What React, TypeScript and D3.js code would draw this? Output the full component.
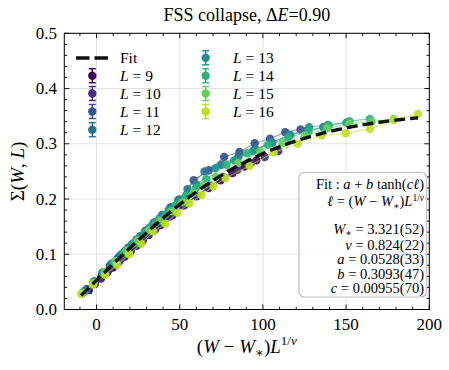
import React from 'react';
import * as d3 from 'd3';

// Fit parameters (from the annotation box)
const W_STAR = 3.321;
const NU = 0.824;
const FIT_A = 0.0528;
const FIT_B = 0.3093;
const FIT_C = 0.00955;

const L_VALUES = [9, 10, 11, 12, 13, 14, 15, 16];
const W_VALUES = [3.0, 3.25, 3.5, 3.75, 4.0, 4.25, 4.5, 4.75, 5.0, 5.25, 5.5, 5.75, 6.0, 6.5, 7.0, 7.5, 8.0, 8.5, 9.0, 9.5, 10.0];

const SIGMA_L9 = [0.035, 0.046, 0.056, 0.066, 0.076, 0.086, 0.096, 0.106, 0.116, 0.125, 0.135, 0.144, 0.153, 0.171, 0.189, 0.205, 0.220, 0.234, 0.247, 0.259, 0.270];
const SIGMA_L10 = [0.036, 0.047, 0.058, 0.070, 0.082, 0.093, 0.104, 0.115, 0.126, 0.137, 0.147, 0.158, 0.168, 0.188, 0.206, 0.224, 0.239, 0.253, 0.265, 0.276, 0.287];
const SIGMA_L11 = [0.037, 0.051, 0.065, 0.079, 0.092, 0.106, 0.119, 0.132, 0.145, 0.158, 0.171, 0.184, 0.198, 0.234, 0.252, 0.276, 0.285, 0.301, 0.309, 0.321, 0.326];
const SIGMA_L12 = [0.035, 0.051, 0.067, 0.082, 0.097, 0.112, 0.127, 0.142, 0.157, 0.171, 0.185, 0.199, 0.218, 0.250, 0.262, 0.277, 0.290, 0.302, 0.315, 0.323, 0.330];
const SIGMA_L13 = [0.033, 0.050, 0.067, 0.084, 0.101, 0.117, 0.133, 0.149, 0.165, 0.180, 0.195, 0.210, 0.226, 0.256, 0.270, 0.287, 0.303, 0.316, 0.330, 0.334, 0.338];
const SIGMA_L14 = [0.031, 0.049, 0.067, 0.085, 0.103, 0.121, 0.139, 0.156, 0.172, 0.189, 0.205, 0.220, 0.236, 0.262, 0.283, 0.298, 0.311, 0.322, 0.333, 0.341, 0.345];
const SIGMA_L15 = [0.029, 0.048, 0.068, 0.088, 0.107, 0.126, 0.144, 0.161, 0.178, 0.194, 0.211, 0.226, 0.240, 0.265, 0.286, 0.301, 0.315, 0.328, 0.336, 0.340, 0.345];
const SIGMA_L16 = [0.028, 0.045, 0.063, 0.081, 0.100, 0.119, 0.141, 0.155, 0.175, 0.192, 0.207, 0.223, 0.238, 0.260, 0.284, 0.300, 0.315, 0.319, 0.327, 0.343, 0.354];

const SIGMA_BY_L = [SIGMA_L9, SIGMA_L10, SIGMA_L11, SIGMA_L12, SIGMA_L13, SIGMA_L14, SIGMA_L15, SIGMA_L16];

const X_MAJOR = [0, 50, 100, 150, 200];
const Y_MAJOR = [0, 0.1, 0.2, 0.3, 0.4, 0.5];
const Y_LABELS = ['0.0', '0.1', '0.2', '0.3', '0.4', '0.5'];

const FONT = '"Liberation Serif", "DejaVu Serif", serif';

const W = 449, H = 370;
const LEFT = 64.3, RIGHT = 429.3, TOP = 33.3, BOTTOM = 309.5;

export default function App() {
  const x = d3.scaleLinear().domain([-19.4, 200]).range([LEFT, RIGHT]);
  const y = d3.scaleLinear().domain([0, 0.5]).range([BOTTOM, TOP]);
  const color = (i: number) => d3.interpolateViridis((i / (L_VALUES.length - 1)) * 0.9);

  const series = L_VALUES.map((L, i) => {
    const k = Math.pow(L, 1 / NU);
    return {
      L,
      color: color(i),
      pts: W_VALUES.map((w, j) => ({ x: (w - W_STAR) * k, y: SIGMA_BY_L[i][j] })),
    };
  });

  const allX = series.flatMap(s => s.pts.map(p => p.x));
  const xmin = d3.min(allX) as number;
  const xmax = d3.max(allX) as number;
  const fitPts = d3.range(0, 201).map(t => {
    const xv = xmin + (xmax - xmin) * t / 200;
    return [xv, FIT_A + FIT_B * Math.tanh(FIT_C * xv)] as [number, number];
  });

  const line = d3.line<{ x: number; y: number }>().x(d => x(d.x)).y(d => y(d.y));
  const fitLine = d3.line<[number, number]>().x(d => x(d[0])).y(d => y(d[1]));

  const xMinor = d3.range(-10, 201, 10).filter(v => !X_MAJOR.includes(v));
  const yMinor = d3.range(0, 0.5001, 0.02).map(v => +v.toFixed(2)).filter(v => Math.abs(v * 10 - Math.round(v * 10)) > 1e-6);

  const legendCol1 = [
    { label: '9', i: 0, cy: 75.7 },
    { label: '10', i: 1, cy: 93.5 },
    { label: '11', i: 2, cy: 111.5 },
    { label: '12', i: 3, cy: 129.7 },
  ];
  const legendCol2 = [
    { label: '13', i: 4, cy: 57.8 },
    { label: '14', i: 5, cy: 75.7 },
    { label: '15', i: 6, cy: 93.5 },
    { label: '16', i: 7, cy: 111.5 },
  ];

  const legendMarker = (cx: number, cy: number, c: string, key: string) => (
    <g key={key}>
      <line x1={cx} x2={cx} y1={cy - 7} y2={cy + 7} stroke={c} strokeWidth={1.5} />
      <line x1={cx - 3.5} x2={cx + 3.5} y1={cy - 7} y2={cy - 7} stroke={c} strokeWidth={1.5} />
      <line x1={cx - 3.5} x2={cx + 3.5} y1={cy + 7} y2={cy + 7} stroke={c} strokeWidth={1.5} />
      <circle cx={cx} cy={cy} r={4.2} fill={c} />
    </g>
  );

  const it = { fontStyle: 'italic' as const };
  const boxRight = 424;
  const boxLines = [
    { y: 189, content: (<>Fit : <tspan style={it}>a</tspan> + <tspan style={it}>b</tspan> tanh(<tspan style={it}>cℓ</tspan>)</>) },
    { y: 206, content: (<><tspan style={it}>ℓ</tspan> = (<tspan style={it}>W</tspan> − <tspan style={it}>W</tspan><tspan fontSize={9.5} dy={3}>∗</tspan><tspan dy={-3}>)</tspan><tspan style={it}>L</tspan><tspan fontSize={9.5} dy={-5}>1/</tspan><tspan fontSize={9.5} style={it}>ν</tspan></>) },
    { y: 234, content: (<><tspan style={it}>W</tspan><tspan fontSize={9.5} dy={1.5}>∗</tspan><tspan dy={-1.5}> = 3.321(52)</tspan></>) },
    { y: 249.5, content: (<><tspan style={it}>ν</tspan> = 0.824(22)</>) },
    { y: 264, content: (<><tspan style={it}>a</tspan> = 0.0528(33)</>) },
    { y: 278.5, content: (<><tspan style={it}>b</tspan> = 0.3093(47)</>) },
    { y: 293, content: (<><tspan style={it}>c</tspan> = 0.00955(70)</>) },
  ];

  const txt = { fontFamily: FONT };

  return (
    <svg width={W} height={H} style={{ position: 'absolute', left: 0, top: 0, background: '#fff', fontFamily: FONT }}>
      <rect x={0} y={0} width={W} height={H} fill="#fff" />
      {/* grid */}
      <g stroke="#e3e3e3" strokeWidth={1}>
        {X_MAJOR.map(v => <line key={'gx' + v} x1={x(v)} x2={x(v)} y1={TOP} y2={BOTTOM} />)}
        {Y_MAJOR.map(v => <line key={'gy' + v} x1={LEFT} x2={RIGHT} y1={y(v)} y2={y(v)} />)}
      </g>
      {/* data */}
      <defs>
        <clipPath id="plotclip"><rect x={LEFT} y={TOP} width={RIGHT - LEFT} height={BOTTOM - TOP} /></clipPath>
      </defs>
      <g clipPath="url(#plotclip)">
        {series.map(s => (
          <g key={'s' + s.L}>
            <path d={line(s.pts) || ''} fill="none" stroke={s.color} strokeOpacity={0.55} strokeWidth={1.2} />
            {s.pts.map((p, j) => (
              <circle key={j} cx={x(p.x)} cy={y(p.y)} r={4.2} fill={s.color} fillOpacity={0.92} />
            ))}
          </g>
        ))}
        <path d={fitLine(fitPts) || ''} fill="none" stroke="#111" strokeWidth={3.4} strokeDasharray="11 5" />
      </g>
      {/* spines */}
      <rect x={LEFT} y={TOP} width={RIGHT - LEFT} height={BOTTOM - TOP} fill="none" stroke="#000" strokeWidth={1} />
      {/* ticks */}
      <g stroke="#000" strokeWidth={0.9}>
        {X_MAJOR.map(v => (
          <g key={'xt' + v}>
            <line x1={x(v)} x2={x(v)} y1={BOTTOM} y2={BOTTOM - 5} />
            <line x1={x(v)} x2={x(v)} y1={TOP} y2={TOP + 5} />
          </g>
        ))}
        {xMinor.map(v => (
          <g key={'xm' + v}>
            <line x1={x(v)} x2={x(v)} y1={BOTTOM} y2={BOTTOM - 2.8} />
            <line x1={x(v)} x2={x(v)} y1={TOP} y2={TOP + 2.8} />
          </g>
        ))}
        {Y_MAJOR.map(v => (
          <g key={'yt' + v}>
            <line x1={LEFT} x2={LEFT + 5} y1={y(v)} y2={y(v)} />
            <line x1={RIGHT} x2={RIGHT - 5} y1={y(v)} y2={y(v)} />
          </g>
        ))}
        {yMinor.map(v => (
          <g key={'ym' + v}>
            <line x1={LEFT} x2={LEFT + 2.8} y1={y(v)} y2={y(v)} />
            <line x1={RIGHT} x2={RIGHT - 2.8} y1={y(v)} y2={y(v)} />
          </g>
        ))}
      </g>
      {/* tick labels */}
      <g fontSize={17} fill="#000">
        {X_MAJOR.map(v => (
          <text key={'xl' + v} style={txt} x={x(v)} y={329.5} textAnchor="middle">{v}</text>
        ))}
        {Y_MAJOR.map((v, i) => (
          <text key={'yl' + v} style={txt} x={57} y={y(v) + 5.5} textAnchor="end">{Y_LABELS[i]}</text>
        ))}
      </g>
      {/* title */}
      <text style={txt} x={(LEFT + RIGHT) / 2} y={20.5} textAnchor="middle" fontSize={18}>
        FSS collapse, Δ<tspan style={it}>E</tspan>=0.90
      </text>
      {/* x label */}
      <text style={txt} x={(LEFT + RIGHT) / 2} y={353} textAnchor="middle" fontSize={19}>
        (<tspan style={it}>W</tspan> − <tspan style={it}>W</tspan><tspan fontSize={13} dy={4}>∗</tspan><tspan dy={-4}>)</tspan><tspan style={it}>L</tspan><tspan fontSize={13} dy={-8}>1/</tspan><tspan fontSize={13} style={it}>ν</tspan>
      </text>
      {/* y label */}
      <text style={txt} transform={`translate(24, ${(TOP + BOTTOM) / 2}) rotate(-90)`} textAnchor="middle" fontSize={19}>
        Σ(<tspan style={it}>W</tspan>, <tspan style={it}>L</tspan>)
      </text>
      {/* legend */}
      <line x1={76} x2={109} y1={58} y2={58} stroke="#111" strokeWidth={3.4} strokeDasharray="13.5 5" />
      <text style={txt} x={120} y={63} fontSize={15.5}>Fit</text>
      {legendCol1.map(e => (
        <g key={'l1' + e.label}>
          {legendMarker(92.3, e.cy, color(e.i), 'm')}
          <text style={txt} x={120} y={e.cy + 5} fontSize={15.5}><tspan style={it}>L</tspan> = {e.label}</text>
        </g>
      ))}
      {legendCol2.map(e => (
        <g key={'l2' + e.label}>
          {legendMarker(205.7, e.cy, color(e.i), 'm')}
          <text style={txt} x={233} y={e.cy + 5} fontSize={15.5}><tspan style={it}>L</tspan> = {e.label}</text>
        </g>
      ))}
      {/* annotation box */}
      <rect x={299} y={172.5} width={127.5} height={124.5} rx={5} ry={5} fill="#fff" fillOpacity={0.85} stroke="#bdbdbd" strokeWidth={1.2} />
      <g fontSize={14.5} textAnchor="end">
        {boxLines.map((l, i) => (
          <text key={'b' + i} style={txt} x={boxRight} y={l.y}>{l.content}</text>
        ))}
      </g>
    </svg>
  );
}
